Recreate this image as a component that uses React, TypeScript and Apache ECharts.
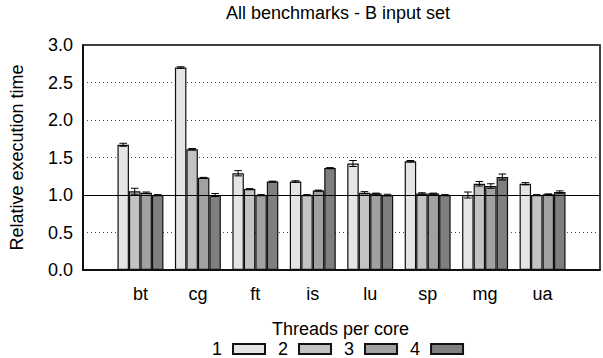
import React, { useEffect, useRef } from "react";
import * as echarts from "echarts";

const categories = ["", "bt", "cg", "ft", "is", "lu", "sp", "mg", "ua", ""];
const threads = ["1", "2", "3", "4"];
const t1 = [1.67, 2.70, 1.29, 1.18, 1.42, 1.45, 1.00, 1.15];
const t2 = [1.05, 1.61, 1.08, 1.00, 1.03, 1.02, 1.15, 1.00];
const t3 = [1.03, 1.23, 1.00, 1.06, 1.02, 1.02, 1.12, 1.01];
const t4 = [1.00, 1.00, 1.18, 1.36, 1.00, 1.00, 1.24, 1.04];
const e1 = [0.02, 0.01, 0.035, 0.01, 0.04, 0.01, 0.04, 0.015];
const e2 = [0.04, 0.01, 0.005, 0.005, 0.015, 0.01, 0.03, 0.005];
const e3 = [0.01, 0.005, 0.005, 0.005, 0.005, 0.005, 0.03, 0.005];
const e4 = [0.005, 0.02, 0.005, 0.005, 0.01, 0.005, 0.04, 0.015];
const colors = ["#e5e5e5", "#c3c3c3", "#a1a1a1", "#7f7f7f"];
const yTicks = [0, 0.5, 1, 1.5, 2, 2.5, 3];

const FONT = "Liberation Sans, Arial, Helvetica, sans-serif";

export default function App() {
  const ref = useRef<HTMLDivElement>(null);
  useEffect(() => {
    const chart = echarts.init(ref.current!, null, { renderer: "svg" });
    const vals = [t1, t2, t3, t4];
    const errs = [e1, e2, e3, e4];
    const barSeries: any[] = vals.map((v, k) => ({
      name: threads[k],
      type: "bar",
      data: ["-", ...v, "-"],
      barWidth: "20%",
      barGap: "0%",
      z: 3,
      itemStyle: { color: colors[k], borderColor: "#111", borderWidth: 1.2 },
    }));
    const errSeries: any[] = vals.map((v, k) => ({
      name: "err" + threads[k],
      type: "custom",
      z: 4,
      data: v.map((val, i) => [i + 1, val, errs[k][i]]),
      renderItem: (params: any, api: any) => {
        const idx = api.value(0);
        const val = api.value(1);
        const e = api.value(2);
        const band = api.size([1, 0])[0];
        const bw = band * 0.2;
        const x = api.coord([idx, val])[0] + (k - 1.5) * bw;
        const yHi = api.coord([idx, val + e])[1];
        const yLo = api.coord([idx, val - e])[1];
        const cap = bw * 0.33;
        const st = { stroke: "#000", lineWidth: 1 };
        return {
          type: "group",
          children: [
            { type: "line", shape: { x1: x, y1: yHi, x2: x, y2: yLo }, style: st },
            { type: "line", shape: { x1: x - cap, y1: yHi, x2: x + cap, y2: yHi }, style: st },
            { type: "line", shape: { x1: x - cap, y1: yLo, x2: x + cap, y2: yLo }, style: st },
          ],
        };
      },
    }));
    chart.setOption({
      animation: false,
      textStyle: { fontFamily: FONT },
      grid: {
        left: 83,
        top: 45,
        right: -2,
        bottom: 88,
        show: true,
        borderColor: "#000",
        borderWidth: 1.5,
        backgroundColor: "transparent",
      },
      graphic: [
        {
          type: "text",
          left: 340 - 114,
          top: 4,
          style: { text: "All benchmarks - B input set", fontSize: 18, lineHeight: 18, fontFamily: FONT, fill: "#000" },
        },
        {
          type: "text",
          left: 272,
          top: 320,
          style: { text: "Threads per core", fontSize: 18, lineHeight: 18, fontFamily: FONT, fill: "#000" },
        },
      ],
      legend: {
        data: threads,
        left: 212,
        top: 340,
        padding: 0,
        itemWidth: 32,
        itemHeight: 10,
        itemGap: 12,
        align: "right",
        icon: "rect",
        textStyle: { fontSize: 18, lineHeight: 14, fontFamily: FONT, color: "#000", padding: [0, 6, 0, 0] },
      },
      xAxis: {
        type: "category",
        data: categories,
        boundaryGap: false,
        axisLine: { show: true, lineStyle: { color: "#000", width: 1.5 } },
        axisTick: { show: false },
        axisLabel: { interval: 0, fontSize: 18, color: "#000", margin: 15, fontFamily: FONT },
        splitLine: { show: false },
      },
      yAxis: {
        type: "value",
        min: 0,
        max: 3,
        interval: 0.5,
        name: "Relative execution time",
        nameLocation: "middle",
        nameGap: 57,
        nameTextStyle: { fontSize: 18, color: "#000", fontFamily: FONT },
        axisLine: { show: true, lineStyle: { color: "#000", width: 1.5 } },
        axisTick: { show: false },
        axisLabel: {
          fontSize: 18,
          color: "#000",
          margin: 10,
          fontFamily: FONT,
          formatter: (v: number) => (yTicks.includes(v) ? v.toFixed(1) : ""),
        },
        splitLine: { show: true, lineStyle: { color: "#444", type: [1, 3], width: 1 } },
      },
      series: [
        {
          name: "ref",
          type: "line",
          z: 1,
          data: categories.map(() => "-"),
          silent: true,
          markLine: {
            silent: true,
            symbol: "none",
            label: { show: false },
            lineStyle: { color: "#000", type: "solid", width: 1.2 },
            data: [{ yAxis: 1 }],
          },
        },
        ...barSeries,
        ...errSeries,
      ],
    });
    return () => chart.dispose();
  }, []);
  return (
    <div
      ref={ref}
      style={{ position: "fixed", left: 0, top: 0, width: 603, height: 358, background: "#fff" }}
    />
  );
}
